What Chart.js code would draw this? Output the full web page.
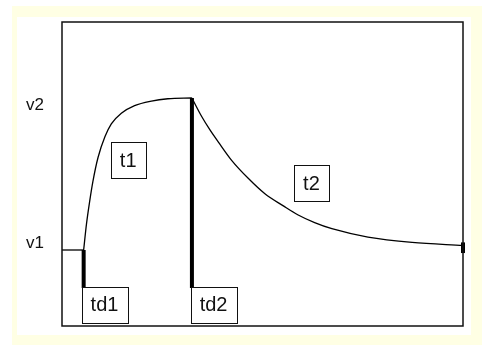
<!DOCTYPE html>
<html>
<head>
<meta charset="utf-8">
<script src="https://cdn.jsdelivr.net/npm/chart.js@4.4.0/dist/chart.umd.min.js"></script>
<style>
html, body { margin: 0; padding: 0; background: #fff; }
canvas { display: block; }
</style>
</head>
<body>
<canvas id="chart" width="482" height="345"></canvas>
<script>
// time runs 0..100, levels v1 = 1 and v2 = 2
var td1 = 5.4
var td2 = 32.4
var tEnd = 100
var levelValues = [1, 2]
var levelNames = ['v1', 'v2']

var flatX = [0, 5.4]
var flatY = [1, 1]
var riseX = [5.4, 6.1, 6.9, 7.7, 9.0, 10.7, 12.3, 14.8, 18.1, 22.3, 26.4, 32.4]
var riseY = [1, 1.17, 1.32, 1.45, 1.61, 1.745, 1.83, 1.90, 1.95, 1.98, 1.995, 2.0]
var decayX = [32.4, 34.8, 36.9, 39.0, 42.3, 46.5, 50.6, 55.2, 58.9, 63.0, 67.3, 76.3, 87.3, 100]
var decayY = [2.0, 1.88, 1.79, 1.71, 1.59, 1.47, 1.37, 1.29, 1.23, 1.18, 1.14, 1.085, 1.05, 1.03]

var barBottom = 0.75
var endMark = [0.98, 1.05]

var boxNames = ['t1', 't2', 'td1', 'td2']
var boxX = [16.5, 62.2, 10.6, 37.8]
var boxY = [1.59, 1.44, 0.64, 0.64]

function pts(xs, ys) {
    return xs.map(function(x, i) { return {x: x, y: ys[i]} })
}

var thin = {borderColor: '#000', borderWidth: 1.3, pointRadius: 0, fill: false, cubicInterpolationMode: 'monotone'}
var thick = {borderColor: '#000', borderWidth: 4, pointRadius: 0, fill: false, clip: false}

var frame = {
    id: 'frame',
    beforeDraw: function(chart) {
        var ctx = chart.ctx
        ctx.save()
        ctx.fillStyle = '#fff'
        ctx.fillRect(0, 0, chart.width, chart.height)
        ctx.fillStyle = '#ffffe4'
        ctx.fillRect(12, 6, 470, 339)
        ctx.fillStyle = '#fff'
        ctx.fillRect(17, 17, 454, 318)
        ctx.restore()
    },
    afterDraw: function(chart) {
        var ctx = chart.ctx
        var a = chart.chartArea
        var x = chart.scales.x
        var y = chart.scales.y
        ctx.save()
        ctx.strokeStyle = '#111'
        ctx.lineWidth = 1.5
        ctx.strokeRect(a.left, a.top, a.right - a.left, a.bottom - a.top)

        // level names on the left
        ctx.fillStyle = '#111'
        ctx.font = '17px "Liberation Sans", Arial, sans-serif'
        ctx.textAlign = 'right'
        levelValues.forEach(function(v, i) {
            ctx.textBaseline = i == 0 ? 'bottom' : 'top'
            ctx.fillText(levelNames[i], a.left - 18, y.getPixelForValue(v) + (i == 0 ? 2 : -1))
        })

        // boxed labels
        ctx.font = '20px "Liberation Sans", Arial, sans-serif'
        ctx.textAlign = 'center'
        ctx.textBaseline = 'middle'
        ctx.lineWidth = 1
        boxNames.forEach(function(t, i) {
            var cx = x.getPixelForValue(boxX[i])
            var cy = y.getPixelForValue(boxY[i])
            var w = Math.round(ctx.measureText(t).width + 18)
            var h = 36
            var l = Math.round(cx - w / 2) + 0.5
            var tp = Math.round(cy - h / 2) + 0.5
            ctx.fillStyle = '#fff'
            ctx.fillRect(l, tp, w, h)
            ctx.strokeRect(l, tp, w, h)
            ctx.fillStyle = '#111'
            ctx.fillText(t, cx, cy + 1)
        })
        ctx.restore()
    }
}

new Chart('chart', {
    type: 'line',
    data: {
        datasets: [
            Object.assign({data: pts(flatX, flatY)}, thin),
            Object.assign({data: pts(riseX, riseY)}, thin),
            Object.assign({data: pts(decayX, decayY)}, thin),
            Object.assign({data: pts([td1, td1], [barBottom, levelValues[0]])}, thick),
            Object.assign({data: pts([td2, td2], [barBottom, levelValues[1]])}, thick),
            Object.assign({data: pts([tEnd, tEnd], endMark)}, thick)
        ]
    },
    options: {
        responsive: false,
        animation: false,
        events: [],
        layout: {padding: {left: 62, top: 22, right: 19, bottom: 19}},
        plugins: {legend: {display: false}, tooltip: {enabled: false}},
        scales: {
            x: {type: 'linear', min: 0, max: 100, display: false},
            y: {type: 'linear', min: 0.5, max: 2.5, display: false}
        }
    },
    plugins: [frame]
});
</script>
</body>
</html>
